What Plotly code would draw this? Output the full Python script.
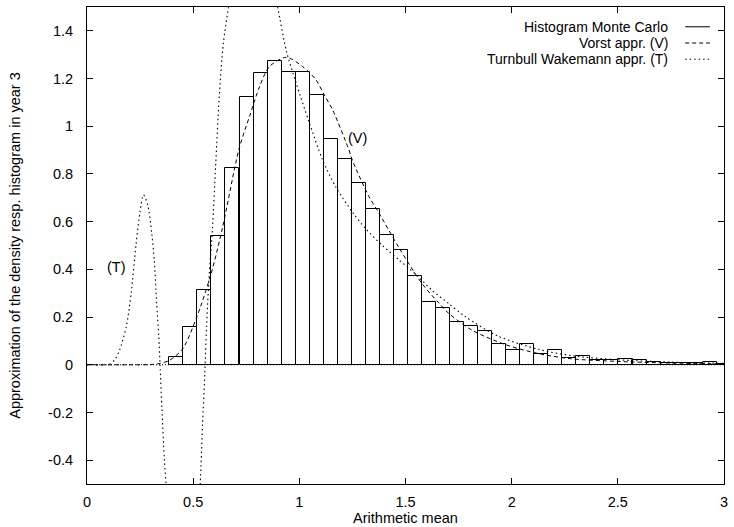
import plotly.graph_objects as go

# ---------------- data ----------------
hist_bin_starts = [0.388, 0.454, 0.520, 0.586, 0.652, 0.719, 0.785, 0.851, 0.917, 0.983,
                   1.049, 1.115, 1.181, 1.247, 1.313, 1.380, 1.446, 1.512, 1.578, 1.644,
                   1.710, 1.776, 1.842, 1.908, 1.974, 2.041, 2.107, 2.173, 2.239, 2.305,
                   2.371, 2.437, 2.503, 2.569, 2.635, 2.702, 2.768, 2.834, 2.900, 2.966]
hist_bin_width = 0.0661
hist_heights = [0.034, 0.158, 0.312, 0.540, 0.823, 1.122, 1.225, 1.272, 1.229, 1.228,
                1.129, 0.945, 0.861, 0.763, 0.654, 0.542, 0.483, 0.374, 0.264, 0.238,
                0.178, 0.161, 0.143, 0.089, 0.060, 0.085, 0.047, 0.060, 0.027, 0.035,
                0.022, 0.018, 0.024, 0.020, 0.011, 0.008, 0.007, 0.006, 0.010, 0.005]

vorst_x = [0.0, 0.25, 0.30, 0.34, 0.3875, 0.45, 0.517, 0.584, 0.638, 0.716, 0.766, 0.813,
           0.859, 0.938, 1.016, 1.078, 1.115, 1.156, 1.234, 1.25, 1.328, 1.375, 1.469,
           1.578, 1.656, 1.703, 1.813, 1.969, 2.125, 2.281, 2.5, 2.75, 3.0]
vorst_y = [0.0, 0.0, 0.001, 0.005, 0.018, 0.066, 0.20, 0.38, 0.574, 0.905, 1.043, 1.167,
           1.25, 1.289, 1.25, 1.195, 1.135, 1.07, 0.90, 0.857, 0.705, 0.636, 0.491,
           0.34, 0.26, 0.216, 0.145, 0.085, 0.047, 0.025, 0.014, 0.007, 0.004]

tw_x = [0.0, 0.09, 0.106, 0.13, 0.153, 0.185, 0.208, 0.231, 0.25, 0.266, 0.286, 0.305,
        0.317, 0.328, 0.338, 0.344, 0.353, 0.364, 0.372, 0.39, 0.42, 0.45, 0.48, 0.51,
        0.533, 0.544, 0.555, 0.563, 0.575, 0.591, 0.606, 0.622, 0.642, 0.666, 0.70,
        0.74, 0.78, 0.82, 0.86, 0.898, 0.938, 0.985, 1.047, 1.109, 1.172, 1.25, 1.313,
        1.391, 1.469, 1.547, 1.625, 1.703, 1.781, 1.938, 2.125, 2.281, 2.5, 2.75, 3.0]
tw_y = [0.0, 0.0, 0.002, 0.02, 0.06, 0.16, 0.30, 0.505, 0.643, 0.712, 0.67, 0.55,
        0.436, 0.257, 0.119, 0.0, -0.185, -0.392, -0.50, -0.75, -1.05, -1.15, -1.05, -0.80,
        -0.5, -0.253, -0.033, 0.16, 0.367, 0.574, 0.836, 1.112, 1.347, 1.498, 1.70,
        1.82, 1.84, 1.78, 1.65, 1.498, 1.319, 1.181, 1.015, 0.86, 0.745, 0.64, 0.57,
        0.50, 0.44, 0.38, 0.312, 0.257, 0.202, 0.119, 0.065, 0.038, 0.021, 0.011, 0.006]

x_tick_vals = [0, 0.5, 1, 1.5, 2, 2.5, 3]
x_tick_text = ["0", "0.5", "1", "1.5", "2", "2.5", "3"]
y_tick_vals = [-0.4, -0.2, 0, 0.2, 0.4, 0.6, 0.8, 1.0, 1.2, 1.4]
y_tick_text = ["-0.4", "-0.2", "0", "0.2", "0.4", "0.6", "0.8", "1", "1.2", "1.4"]

legend_labels = ["Histogram Monte Carlo", "Vorst appr. (V)", "Turnbull Wakemann appr. (T)"]

# ---------------- figure ----------------
FONT = "Liberation Sans, Arial, sans-serif"
FS = 14.5
LEG_FS = 14
bin_centers = [s + hist_bin_width / 2 for s in hist_bin_starts]

fig = go.Figure()
fig.add_trace(go.Bar(x=bin_centers, y=hist_heights, width=hist_bin_width,
                     marker=dict(color="rgba(0,0,0,0)", line=dict(color="black", width=1)),
                     showlegend=False, cliponaxis=True))
fig.add_trace(go.Scatter(x=vorst_x, y=vorst_y, mode="lines",
                         line=dict(color="black", width=1, dash="4px,3px", shape="spline", smoothing=0.8),
                         showlegend=False))
fig.add_trace(go.Scatter(x=tw_x, y=tw_y, mode="lines",
                         line=dict(color="black", width=1.1, dash="1.5px,3px", shape="spline", smoothing=0.8),
                         showlegend=False))

shapes = [dict(type="line", xref="paper", yref="y", x0=0, x1=1, y0=0, y1=0,
               line=dict(color="black", width=1, dash="1px,2px"))]
annotations = []
legend_dash = ["solid", "4px,3px", "1.5px,3px"]
legend_y = [0.9585, 0.9245, 0.8905]
for lbl, d, yy in zip(legend_labels, legend_dash, legend_y):
    annotations.append(dict(text=lbl, xref="paper", yref="paper", x=0.9156, y=yy,
                            xanchor="right", yanchor="middle", showarrow=False,
                            font=dict(family=FONT, size=LEG_FS, color="black")))
    shapes.append(dict(type="line", xref="paper", yref="paper", x0=0.939, x1=0.978,
                       y0=yy, y1=yy, line=dict(color="black", width=1, dash=d)))

annotations.append(dict(text="(V)", x=1.275, y=0.95, xref="x", yref="y", showarrow=False,
                        font=dict(family=FONT, size=FS, color="black")))
annotations.append(dict(text="(T)", x=0.14, y=0.41, xref="x", yref="y", showarrow=False,
                        font=dict(family=FONT, size=FS, color="black")))

fig.update_layout(
    width=734, height=527,
    margin=dict(l=87, r=7, t=6, b=38),
    paper_bgcolor="white", plot_bgcolor="white",
    font=dict(family=FONT, size=FS, color="black"),
    shapes=shapes, annotations=annotations,
    bargap=0,
)
fig.update_xaxes(range=[0, 3], tickvals=x_tick_vals, ticktext=x_tick_text,
                 ticks="inside", ticklen=6, tickcolor="black", showline=True, linecolor="black",
                 linewidth=1, mirror="ticks", showgrid=False, zeroline=False,
                 ticklabelstandoff=5,
                 title=dict(text="Arithmetic mean", standoff=0, font=dict(size=FS)))
fig.update_yaxes(range=[-0.5, 1.5], tickvals=y_tick_vals, ticktext=y_tick_text,
                 ticks="inside", ticklen=6, tickcolor="black", showline=True, linecolor="black",
                 linewidth=1, mirror="ticks", showgrid=False, zeroline=False,
                 ticklabelstandoff=10,
                 title=dict(text="Approximation of the density resp. histogram in year 3",
                            standoff=24, font=dict(size=FS)))

fig.write_html("out.html")
